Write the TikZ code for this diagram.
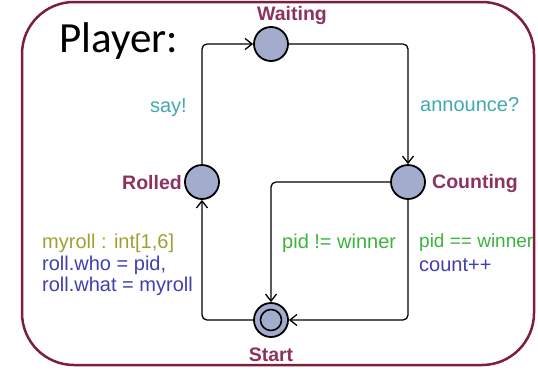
\documentclass[tikz,border=0pt]{standalone}
\usepackage{fontspec}
\setmainfont{Liberation Sans}
\newfontfamily\calibri{Carlito}
\usetikzlibrary{arrows.meta}
\definecolor{labmaroon}{RGB}{140,50,95}
\definecolor{bordermaroon}{RGB}{125,30,60}
\definecolor{locfill}{RGB}{163,172,204}
\definecolor{synccol}{RGB}{64,168,176}
\definecolor{selcol}{RGB}{160,160,50}
\definecolor{updcol}{RGB}{64,64,176}
\definecolor{guardcol}{RGB}{60,180,60}
\tikzset{
  loc/.style={circle,draw=black,fill=locfill,line width=1.8pt,minimum size=34pt,inner sep=0pt},
  locname/.style={text=labmaroon,font=\fontsize{19.5}{21}\selectfont\bfseries,inner sep=0pt},
  edge/.style={draw=black,line width=1.3pt,rounded corners=5pt,-{Straight Barb[length=7pt,width=11pt,line width=1.3pt]}},
  lab/.style={font=\fontsize{20}{22}\selectfont,inner sep=0pt},
}
\begin{document}
\begin{tikzpicture}[x=1pt,y=-1pt]
\useasboundingbox (0,0) rectangle (538,370);
% locations
\node[loc] (waiting) at (271,44) {};
\node[loc] (counting) at (408,182) {};
\node[loc] (rolled) at (202,182) {};
\node[loc] (start) at (271,320) {};
\node[circle,draw=black,line width=1.6pt,minimum size=21pt,inner sep=0pt] (startin) at (start) {};
% names
\node[locname] (nwaiting) at (292,15) {Waiting};
\node[locname,anchor=east] (nrolled) at (182,183) {Rolled};
\node[locname,anchor=west] (ncounting) at (432,183) {Counting};
\node[locname] (nstart) at (271,355) {Start};
% edges
\draw[edge] (rolled.north) |- (waiting.west);
\draw[edge] (waiting.east) -| (counting.north);
\draw[edge] (counting.west) -| (start.north);
\draw[edge] (counting.south) |- (start.east);
\draw[edge] (start.west) -| (rolled.south);
% labels
\node[lab,text=synccol,anchor=east] (say) at (187,108) {say!};
\node[lab,text=synccol,anchor=west] (ann) at (420,105) {announce?};
\node[lab,text=selcol,anchor=west] (sel) at (42,243) {myroll : int[1,6]};
\node[lab,text=updcol,anchor=west] (upd1) at (42,265) {roll.who = pid,};
\node[lab,text=updcol,anchor=west] (upd2) at (42,286) {roll.what = myroll};
\node[lab,text=guardcol,anchor=west] (g1) at (282,243) {pid != winner};
\node[lab,text=guardcol,anchor=west,font=\fontsize{19}{22}\selectfont] (g2) at (419,243) {pid == winner};
\node[lab,text=updcol,anchor=west] (u3) at (419,265) {count++};
% title
\node[anchor=base west,inner sep=0pt,font=\calibri\fontsize{43}{46}\selectfont] (title) at (59,52) {Player:};
% border
\draw[bordermaroon,line width=2.5pt,rounded corners=52pt] (22,2) rectangle (534,365);
\end{tikzpicture}
\end{document}
